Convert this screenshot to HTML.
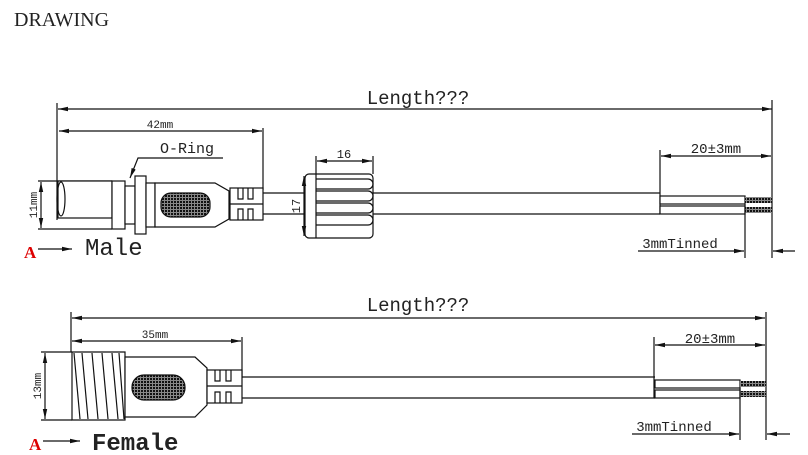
<!DOCTYPE html>
<html><head><style>body{margin:0;background:#fff}svg{display:block}text{font-family:"Liberation Mono","DejaVu Sans Mono",monospace;fill:#222}</style></head>
<body>
<svg width="808" height="455" viewBox="0 0 808 455" xmlns="http://www.w3.org/2000/svg">
<defs>
<marker id="a" markerWidth="10" markerHeight="6" refX="10" refY="3" orient="auto-start-reverse" markerUnits="userSpaceOnUse"><path d="M0,0.8 L10,3 L0,5.2z" fill="#111"/></marker>
<pattern id="h" width="3" height="3" patternUnits="userSpaceOnUse"><rect width="3" height="3" fill="#888"/><rect width="2" height="2" fill="#111"/></pattern>
</defs>
<text x="14" y="26" style="font-family:'Liberation Serif',serif;font-size:20px">DRAWING</text>
<g stroke="#111" stroke-width="1.2" fill="none">
<line x1="58" y1="109" x2="772" y2="109" marker-start="url(#a)" marker-end="url(#a)"/>
<line x1="57" y1="103" x2="57" y2="220"/>
<line x1="772" y1="100" x2="772" y2="258"/>
<line x1="59" y1="131" x2="262" y2="131" marker-start="url(#a)" marker-end="url(#a)"/>
<line x1="263" y1="128" x2="263" y2="190"/>
<polyline points="223,158 138,158 130,178" marker-end="url(#a)"/>
<line x1="38" y1="181" x2="112" y2="181"/><line x1="38" y1="229" x2="112" y2="229"/>
<line x1="41" y1="182" x2="41" y2="228" marker-start="url(#a)" marker-end="url(#a)"/>
<rect x="58" y="181" width="54" height="37" fill="#fff"/>
<ellipse cx="61" cy="199" rx="4" ry="17"/>
<rect x="112" y="181" width="13" height="48" fill="#fff"/>
<rect x="125" y="186" width="10" height="38" fill="#fff"/>
<rect x="135" y="176" width="11" height="58" fill="#fff"/>
<rect x="146" y="183" width="9" height="44" fill="#fff"/>
<path d="M155,183 L215,183 L229,191 L229,219 L215,227 L155,227z" fill="#fff"/>
<rect x="161" y="193" width="49" height="24" rx="10" fill="url(#h)"/>
<rect x="230" y="188" width="33" height="32" fill="#fff"/>
<line x1="230" y1="204" x2="263" y2="204"/>
<path d="M238,188v11h5v-11M248,188v11h5v-11M238,220v-11h5v11M248,220v-11h5v11"/>
<line x1="263" y1="193" x2="660" y2="193"/><line x1="263" y1="214" x2="660" y2="214"/>
<rect x="305" y="174" width="68" height="64" rx="4" fill="#fff"/>
<line x1="316" y1="174" x2="316" y2="238"/>
<path d="M316,179h52a5,5 0 0 1 0,10h-52M316,191h52a5,5 0 0 1 0,10h-52M316,203h52a5,5 0 0 1 0,10h-52M316,215h52a5,5 0 0 1 0,10h-52"/>
<line x1="317" y1="161" x2="372" y2="161" marker-start="url(#a)" marker-end="url(#a)"/>
<line x1="316" y1="156" x2="316" y2="174"/><line x1="373" y1="156" x2="373" y2="174"/>
<line x1="304" y1="176" x2="304" y2="236" marker-start="url(#a)" marker-end="url(#a)"/>
<line x1="660" y1="150" x2="660" y2="214"/>
<line x1="661" y1="156" x2="771" y2="156" marker-start="url(#a)" marker-end="url(#a)"/>
<rect x="660" y="196" width="85" height="8" fill="#fff"/><rect x="660" y="206" width="85" height="8" fill="#fff"/>
<rect x="745" y="197" width="27" height="6" fill="url(#h)" stroke="none"/><rect x="745" y="207" width="27" height="6" fill="url(#h)" stroke="none"/>
<line x1="745" y1="204" x2="745" y2="258"/>
<line x1="638" y1="251" x2="744" y2="251" marker-end="url(#a)"/>
<line x1="795" y1="251" x2="773" y2="251" marker-end="url(#a)"/>
<line x1="38" y1="249" x2="72" y2="249" marker-end="url(#a)"/>
<line x1="72" y1="318" x2="765" y2="318" marker-start="url(#a)" marker-end="url(#a)"/>
<line x1="71" y1="312" x2="71" y2="352"/>
<line x1="766" y1="312" x2="766" y2="440"/>
<line x1="72" y1="341" x2="241" y2="341" marker-start="url(#a)" marker-end="url(#a)"/>
<line x1="242" y1="337" x2="242" y2="378"/>
<line x1="41" y1="352" x2="72" y2="352"/><line x1="41" y1="420" x2="72" y2="420"/>
<line x1="45" y1="353" x2="45" y2="419" marker-start="url(#a)" marker-end="url(#a)"/>
<path d="M72,352 L125,352 L125,420 L72,420 z" fill="#fff"/>
<path d="M74,353 L80,419 M82,353 L88,419 M92,353 L98,419 M102,353 L108,419 M112,353 L118,419 M119,353 L124,419"/>
<path d="M125,357 L195,357 L207,368 L207,405 L195,417 L125,417z" fill="#fff"/>
<rect x="132" y="375" width="53" height="25" rx="12" fill="url(#h)"/>
<rect x="207" y="370" width="35" height="33" fill="#fff"/>
<line x1="207" y1="386" x2="242" y2="386"/>
<path d="M215,370v11h5v-11M226,370v11h5v-11M215,403v-11h5v11M226,403v-11h5v11"/>
<line x1="242" y1="377" x2="655" y2="377"/><line x1="242" y1="398" x2="655" y2="398"/>
<line x1="654" y1="337" x2="654" y2="398"/>
<line x1="655" y1="345" x2="765" y2="345" marker-start="url(#a)" marker-end="url(#a)"/>
<rect x="655" y="380" width="85" height="8" fill="#fff"/><rect x="655" y="390" width="85" height="8" fill="#fff"/>
<rect x="740" y="381" width="26" height="6" fill="url(#h)" stroke="none"/><rect x="740" y="391" width="26" height="6" fill="url(#h)" stroke="none"/>
<line x1="740" y1="388" x2="740" y2="440"/>
<line x1="632" y1="434" x2="739" y2="434" marker-end="url(#a)"/>
<line x1="790" y1="434" x2="767" y2="434" marker-end="url(#a)"/>
<line x1="43" y1="441" x2="80" y2="441" marker-end="url(#a)"/>
</g>
<text x="418" y="104" text-anchor="middle" style="font-size:19px">Length???</text>
<text x="160" y="128" text-anchor="middle" style="font-size:11px">42mm</text>
<text x="160" y="153" style="font-size:15px">O-Ring</text>
<text x="344" y="158" text-anchor="middle" style="font-size:12px">16</text>
<text transform="translate(300,206) rotate(-90)" text-anchor="middle" style="font-size:12px">17</text>
<text transform="translate(37,205) rotate(-90)" text-anchor="middle" style="font-size:11px">11mm</text>
<text x="716" y="153" text-anchor="middle" style="font-size:14px">20±3mm</text>
<text x="680" y="248" text-anchor="middle" style="font-size:14px">3mmTinned</text>
<text x="24" y="258" style="font-family:'Liberation Serif',serif;font-size:17px;font-weight:bold;fill:#d00">A</text>
<text x="85" y="255" style="font-size:24px">Male</text>
<text x="418" y="311" text-anchor="middle" style="font-size:19px">Length???</text>
<text x="155" y="338" text-anchor="middle" style="font-size:11px">35mm</text>
<text transform="translate(41,386) rotate(-90)" text-anchor="middle" style="font-size:11px">13mm</text>
<text x="710" y="343" text-anchor="middle" style="font-size:14px">20±3mm</text>
<text x="674" y="431" text-anchor="middle" style="font-size:14px">3mmTinned</text>
<text x="29" y="450" style="font-family:'Liberation Serif',serif;font-size:17px;font-weight:bold;fill:#d00">A</text>
<text x="92" y="450" style="font-size:24px;font-weight:bold">Female</text>
</svg>
</body></html>
